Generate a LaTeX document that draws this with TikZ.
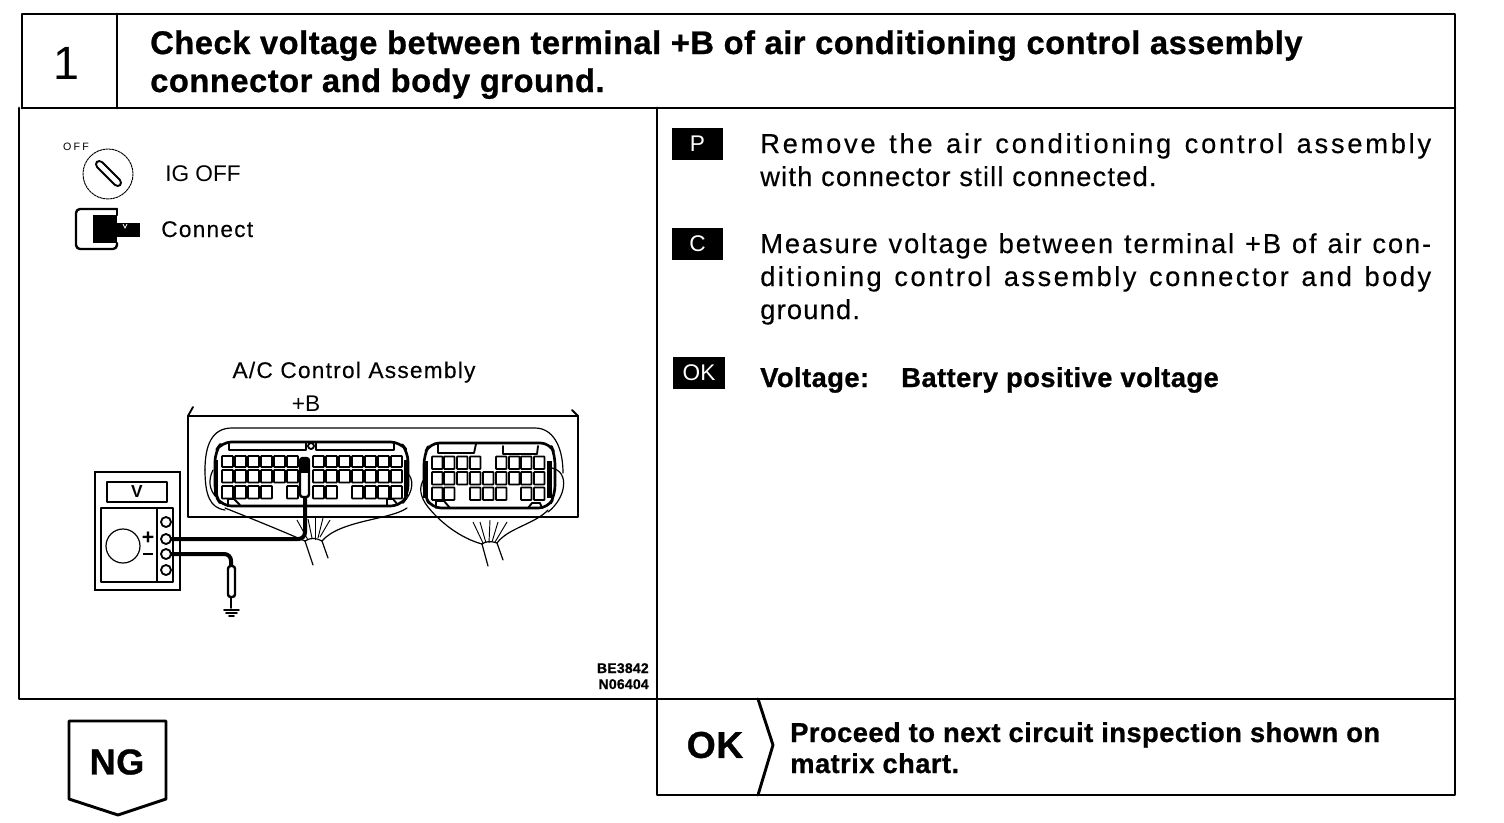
\documentclass[tikz,border=0pt]{standalone}
\usepackage{fontspec}
\setmainfont{Liberation Sans}
\newfontfamily\bodyf[LetterSpace=4.3,FakeBold=0.3]{Liberation Sans}
\newfontfamily\headf[LetterSpace=1.6,BoldFeatures={FakeBold=0.8}]{Liberation Sans}
\newfontfamily\smallf[LetterSpace=5.5,FakeBold=0.3]{Liberation Sans}
\newcommand{\fitline}[2]{\addfontfeature{LetterSpace=#1}\makebox[503.25pt][s]{#2}}
\usetikzlibrary{calc}
\tikzset{
 frame/.style={line width=2.2pt,line cap=round,line join=round},
 thinl/.style={line width=0.9pt,line cap=round,line join=round},
 midl/.style={line width=1.4pt,line cap=round,line join=round},
 cell/.style={line width=1.3pt,rounded corners=0.5pt},
 wire/.style={line width=3pt,line join=round,rounded corners=5pt},
 title/.style={anchor=base west,inner sep=0,font=\headf\fontsize{24.5}{28}\selectfont\bfseries},
 body/.style={anchor=base west,inner sep=0,font=\bodyf\fontsize{20.5}{24}\selectfont},
 bodyb/.style={anchor=base west,inner sep=0,font=\headf\fontsize{20.5}{24}\selectfont\bfseries},
 small/.style={anchor=base west,inner sep=0,font=\smallf\fontsize{17}{20}\selectfont},
 tag/.style={fill=black,text=white,inner sep=0,minimum width=38.5pt,minimum height=24pt,font=\fontsize{17}{20}\selectfont},
 code/.style={anchor=base east,inner sep=0,font=\headf\fontsize{10.5}{12}\selectfont\bfseries},
}
\begin{document}
\begin{tikzpicture}[x=0.75pt,y=-0.75pt]
\useasboundingbox (0,0) rectangle (1504,822);
% frames
\draw[frame] (22,108) -- (22,14) -- (1455,14) -- (1455,795) -- (657,795) -- (657,108);
\draw[frame] (22,108) -- (1455,108);
\draw[frame] (117,14) -- (117,108);
\draw[frame] (19,108) -- (19,699) -- (1455,699);
% header
\node[inner sep=0,anchor=base,font=\fontsize{35}{40}\selectfont] (num) at (66,79) {1};
\node[title] (t1) at (150,54) {Check voltage between terminal +B of air conditioning control assembly};
\node[title] (t2) at (150,92) {connector and body ground.};
% right side text
\node[tag] (p) at (697.5,144) {P};
\node[body] (p1) at (760,153) {\fitline{10}{Remove the air conditioning control assembly}};
\node[body] (p2) at (760,186) {with connector still connected.};
\node[tag] (c) at (697.5,244) {C};
\node[body] (c1) at (760,253) {\fitline{6.8}{Measure voltage between terminal +B of air con-}};
\node[body] (c2) at (760,286) {\fitline{9}{ditioning control assembly connector and body}};
\node[body] (c3) at (760,319) {ground.};
\node[tag] (ok) at (699,373) {OK};
\node[bodyb] (v1) at (760,387) {Voltage:};
\node[bodyb] (v2) at (901,387) {Battery positive voltage};
% OK result
\draw[frame] (758,699) -- (773,745) -- (758,795);
\node[inner sep=0,font=\headf\fontsize{28}{32}\selectfont\bfseries] (oklab) at (715,745) {OK};
\node[bodyb] (r1) at (790,742) {Proceed to next circuit inspection shown on};
\node[bodyb] (r2) at (790,773) {matrix chart.};
% NG
\draw[frame] (69,721) -- (166,721) -- (166,799) -- (118,815) -- (69,799) -- cycle;
\node[inner sep=0,font=\headf\fontsize{27}{30}\selectfont\bfseries] (ng) at (117,762) {NG};
% IG OFF
\draw[line width=0.7pt,dash pattern=on 2pt off 0.4pt] (108,174) circle[radius=25];
\draw[midl,rounded corners=3pt,rotate around={-45:(108.5,173.5)}] (92,170) rectangle (125,177);
\node[inner sep=0,font=\fontsize{8}{9}\addfontfeature{LetterSpace=20}\selectfont] (off) at (76,147) {OFF};
\node[anchor=base west,inner sep=0,font=\fontsize{17}{20}\selectfont] (ig) at (165,181) {IG OFF};
% Connect icon
\draw[frame,line width=1.8pt,rounded corners=3pt] (117,209) -- (76,209) -- (76,249) -- (117,249) -- (117,243);
\draw[frame,line width=1.8pt] (117,209) -- (117,215);
\fill (93,215) rectangle (117,243);
\fill (117,223) rectangle (140,237);
\draw[white,line width=0.6pt] (123,224) -- (125,228) -- (127,224);
\node[small] (con) at (161,237) {Connect};
% Assembly
\node[small,anchor=base] (acc) at (354,378) {A/C Control Assembly};
\node[small,anchor=base,font=\fontsize{17}{20}\selectfont] (bb) at (306,411) {+B};
\draw[midl] (193,407) -- (188,416) -- (188,517) -- (578,517) -- (578,416) -- (572,410);
\draw[midl] (188,416) -- (578,416);
\draw[thinl] (205,470) .. controls (205,445) and (212,428) .. (232,428) -- (535,428) .. controls (552,428) and (563,445) .. (563,473);
\draw[thinl] (205,470) .. controls (205,495) and (210,508) .. (225,510);
% left connector
\draw[frame,line width=2pt,rounded corners=7pt] (215,452) -- (222,442) -- (400,442) -- (408,452) -- (408,495) -- (400,506) -- (222,506) -- (215,495) -- cycle;
\draw[midl] (229,442) -- (229,450) -- (306,450) -- (306,442);
\draw[midl] (316,442) -- (316,450) -- (394,450) -- (394,442);
\draw[midl,fill=white] (311,446) circle[radius=3];
\draw[midl] (228,506) -- (228,499) -- (234,499) -- (240,505);
\draw[midl] (387,506) -- (387,499) -- (393,499) -- (398,505);
\fill (214,460) rectangle (218,496);
\fill (404,460) rectangle (408,496);
\foreach \x in {222,235,248,261,274,287,313,326,339,352,365,378,391}{
  \draw[cell] (\x,456) rectangle +(11,11);
  \draw[cell] (\x,470) rectangle +(11,12.5);
}
\foreach \x in {222,235,248,261,287,313,326,352,365,378,391}
  \draw[cell] (\x,486) rectangle +(11,12.5);
% right connector
\draw[frame,line width=2pt,rounded corners=7pt] (424,455) -- (430,443) -- (550,443) -- (555,455) -- (555,495) -- (548,508) -- (432,508) -- (424,495) -- cycle;
\draw[midl] (438,444) -- (438,453) -- (474,453) -- (476,444);
\draw[midl] (503,446) -- (503,454) -- (537,454) -- (538,446);
\draw[midl] (436,508) -- (436,501) -- (444,501) -- (450,508);
\draw[midl] (528,508) -- (532,503) -- (540,503) -- (542,508);
\fill (423,461) rectangle (428,498);
\fill (547,461) rectangle (552,498);
\foreach \x in {432,444,457,470,496,509,521,534}
  \draw[cell] (\x,456.5) rectangle +(10.5,12.5);
\foreach \x in {432,444,457,470,483,496,509,521,534}
  \draw[cell] (\x,472) rectangle +(10.5,12.5);
\foreach \x in {432,444,470,483,496,521,534}
  \draw[cell] (\x,487.5) rectangle +(10.5,12.5);
% harness left
\coordinate (hl) at (305,541);
\coordinate (hr) at (322,541);
\draw[thinl] (225,508) .. controls (250,518) and (275,528) .. (hl);
\draw[thinl] (407,508) .. controls (390,520) and (340,520) .. (hr);
\draw[thinl] (hl) .. controls (312,537) and (316,538) .. (hr);
\draw[thinl] (hl) -- (313,565);
\draw[thinl] (hr) -- (328,558);
\foreach \xa/\ya/\xb/\yb in {297/520/308/540,308/519/312/538,315/518/315/540,323/518/318/538,330/520/320/537}
  \draw[line width=0.7pt] (\xa,\ya) -- (\xb,\yb);
% harness right
\coordinate (gl) at (482,544);
\coordinate (gr) at (497,543);
\draw[thinl] (428,507) .. controls (440,522) and (460,538) .. (gl);
\draw[thinl] (548,510) .. controls (535,524) and (508,528) .. (gr);
\draw[thinl] (gl) .. controls (486,541) and (491,541) .. (gr);
\draw[thinl] (gl) -- (488,566);
\draw[thinl] (gr) -- (503,560);
\foreach \xa/\ya/\xb/\yb in {473/522/483/543,480/522/486/543,490/520/489/543,498/522/492/542,507/522/495/542}
  \draw[line width=0.7pt] (\xa,\ya) -- (\xb,\yb);
\draw[thinl] (407,473) .. controls (414,478) and (414,492) .. (403,503);
\draw[thinl] (213,470) .. controls (208,480) and (209,490) .. (217,498);
\draw[thinl] (425,478) .. controls (418,486) and (420,497) .. (428,507);
\draw[thinl] (552,468) .. controls (570,472) and (566,498) .. (548,512);
% meter
\draw[line width=2.2pt] (95,472) rectangle (180,590);
\draw[midl] (107,482) rectangle (167,502);
\node[inner sep=0,font=\fontsize{13}{15}\selectfont\bfseries] (vv) at (137,492) {V};
\draw[midl] (101,508) rectangle (173,582);
\draw[midl] (157,508) -- (157,582);
\draw[thinl] (123,546) circle[radius=17];
\node[inner sep=0,font=\fontsize{16}{18}\selectfont\bfseries] (pl) at (148,538) {+};
\draw[line width=1.8pt] (143,554) -- (153,554);
\foreach \y/\n in {522/a,539/b,554/c,570/d}
  \draw[midl,fill=white] (166,\y) circle[radius=5] coordinate (term\n);
% wires
\coordinate (w1) at (305,490);
\draw[wire] ($(termb)+(5,0)$) -- (305,539) -- (w1);
\draw[wire] ($(termc)+(5,0)$) -- (231,554) -- (231,568);
\draw[midl,line width=1.8pt,fill=white,rounded corners=2pt] (300,458) rectangle (309,497);
\fill (300,458) rectangle (309,473);
\draw[midl,line width=1.8pt,rounded corners=2pt,fill=white] (228,566) rectangle (235,597);
\draw[midl] (231,597) -- (231,608);
\draw[midl] (224,610) -- (239,610);
\draw[midl] (226,613) -- (237,613);
\draw[midl] (229,616) -- (234,616);
% codes
\node[code] (bcode) at (649,673) {BE3842};
\node[code] (ncode) at (649,689) {N06404};
\end{tikzpicture}
\end{document}
